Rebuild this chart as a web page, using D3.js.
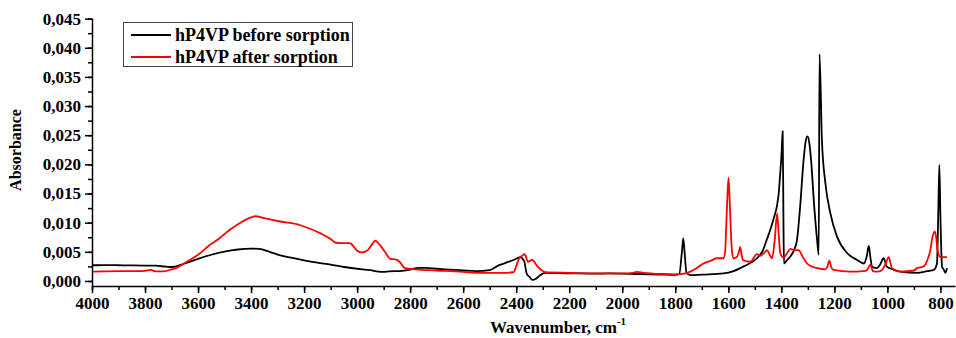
<!DOCTYPE html>
<html>
<head>
<meta charset="utf-8">
<script src="https://cdn.jsdelivr.net/npm/d3@7"></script>
<style>
  html, body { margin: 0; padding: 0; background: #fff; }
  svg { display: block; }
  text { font-family: "Liberation Serif", "Times New Roman", serif; font-weight: bold; fill: #000; }
</style>
</head>
<body>
<svg id="chart" width="956" height="338"></svg>
<script>
// FTIR spectra of hP4VP before and after sorption
const seriesNames = ["hP4VP before sorption", "hP4VP after sorption"];
const seriesColors = ["#000000", "#ff0000"];

const beforeWn = [4000,3950,3900,3850,3800,3760,3720,3700,3680,3650,3600,3550,3500,3450,3400,3370,3330,3290,3250,3200,3150,3100,3050,3000,2950,2920,2900,2880,2840,2800,2770,2740,2700,2650,2600,2550,2500,2470,2440,2410,2385,2370,2360,2350,2340,2325,2310,2290,2250,2200,2150,2100,2050,2000,1950,1900,1850,1800,1785,1775,1770,1765,1758,1744,1700,1618,1580,1542,1492,1470,1454,1440,1429,1416,1410,1404,1399,1395,1392,1390,1378,1366,1352,1341,1329,1316,1308,1301,1294,1288,1276,1265,1259,1256,1247,1234,1215,1190,1152,1114,1089,1078,1070,1064,1058,1039,1028,1014,1003,980,951,888,850,825,813,808,804,800,794,788,781,775];
const beforeAbs = [0.00270,0.00272,0.00270,0.00268,0.00265,0.00262,0.00245,0.00240,0.00255,0.00300,0.00380,0.00450,0.00505,0.00540,0.00555,0.00550,0.00500,0.00440,0.00400,0.00355,0.00315,0.00280,0.00240,0.00210,0.00185,0.00160,0.00155,0.00165,0.00170,0.00195,0.00225,0.00225,0.00210,0.00195,0.00180,0.00170,0.00185,0.00260,0.00310,0.00360,0.00410,0.00340,0.00120,0.00070,0.00020,0.00040,0.00100,0.00140,0.00135,0.00130,0.00130,0.00125,0.00130,0.00125,0.00120,0.00115,0.00110,0.00105,0.00120,0.00500,0.00730,0.00500,0.00150,0.00100,0.00110,0.00130,0.00170,0.00250,0.00390,0.00520,0.00720,0.00900,0.01070,0.01300,0.01500,0.01860,0.02200,0.02570,0.01000,0.00300,0.00360,0.00420,0.00530,0.00700,0.01280,0.02080,0.02400,0.02480,0.02350,0.02080,0.01280,0.00700,0.00450,0.03890,0.02420,0.01680,0.01160,0.00760,0.00480,0.00360,0.00300,0.00420,0.00600,0.00400,0.00250,0.00220,0.00280,0.00390,0.00250,0.00200,0.00160,0.00140,0.00170,0.00190,0.00300,0.01200,0.01990,0.01100,0.00250,0.00200,0.00140,0.00220];

const afterWn = [4000,3950,3900,3850,3800,3780,3760,3730,3700,3680,3650,3600,3555,3520,3480,3440,3400,3385,3350,3290,3216,3180,3140,3100,3083,3060,3027,3015,3000,2982,2960,2945,2932,2915,2895,2875,2855,2840,2820,2780,2700,2612,2550,2450,2410,2400,2390,2375,2368,2355,2340,2320,2300,2290,2200,2100,2000,1960,1945,1920,1850,1800,1760,1744,1720,1694,1665,1643,1618,1612,1608,1603,1599,1595,1591,1586,1580,1568,1560,1555,1550,1545,1517,1492,1480,1465,1454,1445,1435,1425,1416,1410,1404,1391,1378,1366,1350,1335,1320,1303,1280,1265,1234,1226,1219,1212,1203,1140,1090,1077,1064,1055,1039,1020,1008,995,988,983,951,900,888,863,850,838,830,822,816,811,800,775];
const afterAbs = [0.00160,0.00165,0.00168,0.00170,0.00175,0.00190,0.00165,0.00165,0.00200,0.00230,0.00310,0.00450,0.00620,0.00730,0.00880,0.01000,0.01090,0.01110,0.01080,0.01020,0.00960,0.00900,0.00820,0.00720,0.00660,0.00650,0.00650,0.00600,0.00520,0.00490,0.00530,0.00620,0.00690,0.00620,0.00500,0.00380,0.00370,0.00330,0.00220,0.00200,0.00180,0.00160,0.00140,0.00140,0.00150,0.00250,0.00380,0.00440,0.00460,0.00330,0.00360,0.00250,0.00170,0.00150,0.00140,0.00130,0.00130,0.00140,0.00155,0.00140,0.00120,0.00115,0.00130,0.00160,0.00220,0.00300,0.00350,0.00390,0.00390,0.00500,0.00930,0.01500,0.01770,0.01400,0.00930,0.00500,0.00390,0.00410,0.00500,0.00580,0.00450,0.00360,0.00330,0.00460,0.00430,0.00480,0.00530,0.00460,0.00390,0.00700,0.01160,0.00800,0.00480,0.00400,0.00480,0.00550,0.00530,0.00530,0.00420,0.00300,0.00240,0.00220,0.00200,0.00250,0.00350,0.00240,0.00190,0.00160,0.00170,0.00190,0.00280,0.00170,0.00160,0.00190,0.00280,0.00410,0.00300,0.00220,0.00160,0.00180,0.00220,0.00250,0.00350,0.00530,0.00750,0.00850,0.00750,0.00530,0.00410,0.00410];

const xMajorTicks = [4000,3800,3600,3400,3200,3000,2800,2600,2400,2200,2000,1800,1600,1400,1200,1000,800];
const yMajorTicks = [0,0.005,0.010,0.015,0.020,0.025,0.030,0.035,0.040,0.045];

const svg = d3.select("#chart");
const plotLeft = 92, plotRight = 955, plotTop = 18, plotBottom = 286;

const x = d3.scaleLinear().domain([4000, 745]).range([plotLeft, plotRight]);
const y = d3.scaleLinear().domain([-0.00086, 0.0451]).range([plotBottom, plotTop]);

const fmtY = v => d3.format(".3f")(v).replace(".", ",");

// minor ticks
const xMinor = d3.range(4000, 744, -100);
const yMinor = d3.range(0, 0.0451, 0.0025);

svg.append("g").attr("transform", `translate(0,${plotBottom})`)
  .call(d3.axisBottom(x).tickValues(xMinor).tickSize(4).tickFormat(""))
  .call(g => g.select(".domain").remove());
svg.append("g").attr("transform", `translate(${plotLeft},0)`)
  .call(d3.axisLeft(y).tickValues(yMinor).tickSize(4).tickFormat(""))
  .call(g => g.select(".domain").remove());

svg.append("g").attr("transform", `translate(0,${plotBottom})`)
  .call(d3.axisBottom(x).tickValues(xMajorTicks).tickSize(7).tickSizeOuter(0).tickPadding(4).tickFormat(d3.format("d")));
svg.append("g").attr("transform", `translate(${plotLeft},0)`)
  .call(d3.axisLeft(y).tickValues(yMajorTicks).tickSize(7).tickSizeOuter(0).tickPadding(4).tickFormat(fmtY));

svg.selectAll(".tick line, .domain").attr("stroke", "#000").attr("stroke-width", 1.5);
svg.selectAll(".tick text").style("font-family", "'Liberation Serif', serif").style("font-weight", "bold").style("font-size", "17px");

// clip the spectra to the plotting area
svg.append("clipPath").attr("id", "plotClip")
  .append("rect").attr("x", plotLeft + 1).attr("y", plotTop).attr("width", plotRight - plotLeft).attr("height", plotBottom - plotTop - 1);

const line = d3.line().curve(d3.curveMonotoneX).x(d => x(d[0])).y(d => y(d[1]));
const series = [
  d3.zip(beforeWn, beforeAbs),
  d3.zip(afterWn, afterAbs)
];
svg.append("g").attr("clip-path", "url(#plotClip)")
  .selectAll("path").data(series).join("path")
  .attr("d", line)
  .attr("fill", "none")
  .attr("stroke", (d, i) => seriesColors[i])
  .attr("stroke-width", 1.8)
  .attr("stroke-linejoin", "round");

// axis titles
const xt = svg.append("text").attr("x", 490).attr("y", 333).style("font-size", "17px");
xt.append("tspan").text("Wavenumber, cm");
xt.append("tspan").attr("dy", -8).style("font-size", "11px").text("-1");

svg.append("text")
  .attr("transform", "translate(21,150) rotate(-90)")
  .attr("text-anchor", "middle")
  .style("font-size", "16px")
  .text("Absorbance");

// legend
const lg = svg.append("g");
lg.append("rect").attr("x", 123.5).attr("y", 22.5).attr("width", 229).attr("height", 44)
  .attr("fill", "#fff").attr("stroke", "#444").attr("stroke-width", 1);
seriesNames.forEach((name, i) => {
  const cy = 35 + i * 22;
  lg.append("line").attr("x1", 131).attr("x2", 171).attr("y1", cy).attr("y2", cy)
    .attr("stroke", seriesColors[i]).attr("stroke-width", 1.8);
  lg.append("text").attr("x", 175).attr("y", cy + 6).style("font-size", "18px").text(name);
});
</script>
</body>
</html>
